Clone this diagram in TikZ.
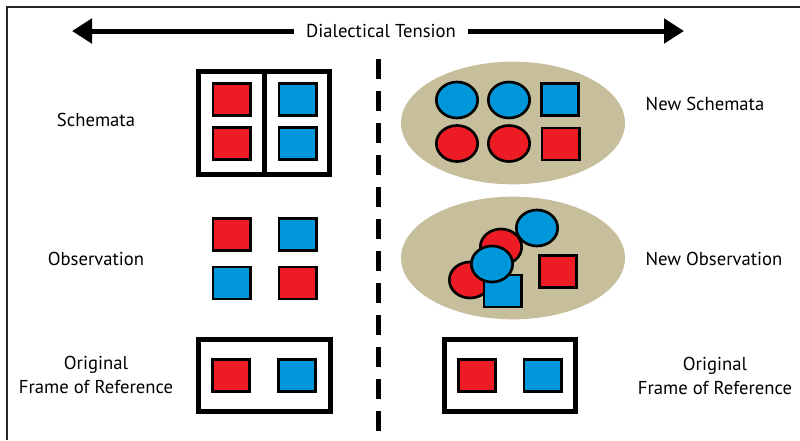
\documentclass[tikz,border=0pt]{standalone}
\usepackage{fontspec}
\setmainfont{PT Sans}
\usetikzlibrary{calc,shapes.geometric,arrows.meta}
\definecolor{boxred}{RGB}{237,28,36}
\definecolor{boxblue}{RGB}{0,150,218}
\definecolor{ovaltan}{RGB}{199,191,155}
\def\redsq{\node[draw=black,line width=2pt,fill=boxred,inner sep=0pt,minimum width=28pt,minimum height=24pt]}
\def\bluesq{\node[draw=black,line width=2pt,fill=boxblue,inner sep=0pt,minimum width=28pt,minimum height=24pt]}
\def\redball{\node[ellipse,draw=black,line width=2pt,fill=boxred,inner sep=0pt,minimum width=31pt,minimum height=27pt]}
\def\blueball{\node[ellipse,draw=black,line width=2pt,fill=boxblue,inner sep=0pt,minimum width=31pt,minimum height=27pt]}
\def\drawframe{\draw[line width=3.75pt]}
\def\oval{\node[ellipse,fill=ovaltan,inner sep=0pt,minimum width=168pt,minimum height=92pt]}

\begin{document}
\begin{tikzpicture}[x=0.75pt,y=-0.75pt,lbl/.style={align=center,font=\fontsize{14}{17.5}\selectfont}]
\useasboundingbox (0,0) rectangle (800,440);
\draw[line width=1.5pt,black!85] (7,440) -- (7,7) -- (800,7);

% Tension arrow across the top
\coordinate (lefttip) at (72,31);
\coordinate (righttip) at (684,31);
\node[lbl,inner xsep=9pt] (tension) at (381,31) {Dialectical Tension};
\draw[line width=3.75pt,-{Triangle[length=15pt,width=18pt]}] (tension.west) -- (lefttip);
\draw[line width=3.75pt,-{Triangle[length=15pt,width=18pt]}] (tension.east) -- (righttip);

% Divider
\coordinate (divtop) at (378,59);
\coordinate (divbot) at (378,432);
\draw[line width=3.75pt,dash pattern=on 15pt off 9pt] (divtop) -- (divbot);

% Left side: schemata, observation, frame
\node[lbl] (schemata) at (96,120) {Schemata};
\drawframe (198.5,71.5) rectangle (264,174.5);
\drawframe (264,71.5) rectangle (329.5,174.5);
\redsq (s1) at (231.5,99.5) {};
\redsq (s2) at (231.5,143.5) {};
\bluesq (s3) at (297.5,99.5) {};
\bluesq (s4) at (297.5,143.5) {};

\node[lbl] (observation) at (96,259) {Observation};
\redsq (o1) at (231.5,234.5) {};
\bluesq (o2) at (297.5,234.5) {};
\bluesq (o3) at (231.5,283) {};
\redsq (o4) at (297.5,283) {};

\node[lbl] (origleft) at (96,375) {Original\\Frame of Reference};
\drawframe (198.5,339.5) rectangle (330.5,411.5);
\redsq (f1) at (231,375.5) {};
\bluesq (f2) at (297,375.5) {};

% Right side: new schemata, new observation, frame
\oval (newsch) at (513,123) {};
\blueball (n1) at (457,100) {};
\blueball (n2) at (509,100) {};
\bluesq (n3) at (560,99.5) {};
\redball (n4) at (457,143.5) {};
\redball (n5) at (509,143.5) {};
\redsq (n6) at (560.5,144) {};
\node[lbl] (newschemata) at (705,104) {New Schemata};

\oval (newobs) at (513,258) {};
\redball (m1) at (470,280) {};
\redball (m2) at (501,247) {};
\blueball (m3) at (537,228) {};
\bluesq (m4) at (502.5,291) {};
\blueball (m5) at (492,264) {};
\redsq (m6) at (558,271.5) {};
\node[lbl] (newobservation) at (714,259) {New Observation};

\drawframe (444.5,339.5) rectangle (575.5,411.5);
\redsq (g1) at (477,375.5) {};
\bluesq (g2) at (542.5,375.5) {};
\node[lbl] (origright) at (715,376) {Original\\Frame of Reference};
\end{tikzpicture}
\end{document}
